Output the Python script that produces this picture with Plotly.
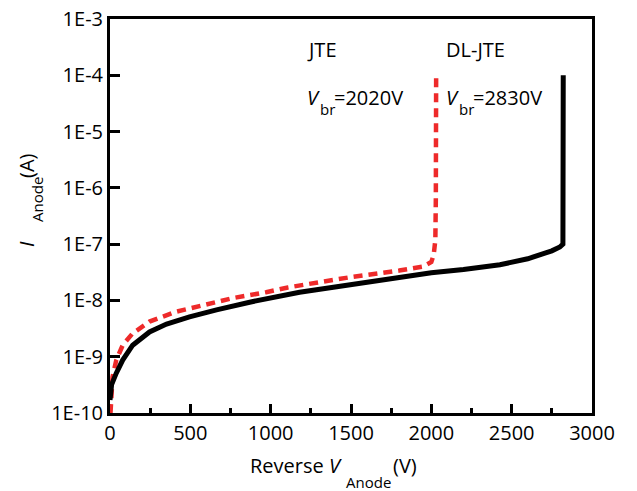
import plotly.graph_objects as go

# DL-JTE (black, solid)
dl_v = [0, 10, 39, 79, 141, 246, 352, 495, 663, 869, 1180, 1500, 1804, 2000,
        2200, 2427, 2600, 2679, 2750, 2800, 2819, 2821]
dl_i = [1.7e-10, 3.2e-10, 5.1e-10, 8.7e-10, 1.6e-9, 2.75e-9, 3.8e-9, 5.1e-9,
        6.8e-9, 9.3e-9, 1.4e-8, 1.9e-8, 2.6e-8, 3.1e-8, 3.55e-8, 4.3e-8,
        5.5e-8, 6.5e-8, 7.6e-8, 8.9e-8, 1.0e-7, 1.0e-4]

# JTE (red, dashed)
jte_v = [3, 8, 16, 39, 79, 141, 246, 411, 557, 764, 972, 1107, 1300, 1500,
         1800, 1950, 2000, 2015, 2025, 2028, 2030]
jte_i = [1.0e-10, 2.0e-10, 4.4e-10, 8.7e-10, 1.6e-9, 2.6e-9, 4.2e-9, 6.3e-9,
         7.9e-9, 1.1e-8, 1.4e-8, 1.7e-8, 2.1e-8, 2.6e-8, 3.4e-8, 4.0e-8,
         4.8e-8, 6.5e-8, 1.2e-7, 6.3e-7, 1.0e-4]

y_tickvals = [1e-10, 1e-9, 1e-8, 1e-7, 1e-6, 1e-5, 1e-4, 1e-3]
y_ticktext = ["1E-10", "1E-9", "1E-8", "1E-7", "1E-6", "1E-5", "1E-4", "1E-3"]
x_tickvals = [0, 500, 1000, 1500, 2000, 2500, 3000]

FONT = "Open Sans"
W, H = 637, 491
L, R, T, B = 110, 592, 19, 413


def px(x):
    return (x - L) / (R - L)


def py(y):
    return (B - y) / (B - T)


fig = go.Figure()
fig.add_trace(go.Scatter(x=jte_v, y=jte_i, mode="lines",
                         line=dict(color="#ee2a2a", width=4.5, dash="9px,6px")))
fig.add_trace(go.Scatter(x=dl_v, y=dl_i, mode="lines",
                         line=dict(color="black", width=5)))

fig.update_layout(
    width=W, height=H,
    margin=dict(l=L, r=W - R, t=T, b=H - B, pad=0),
    paper_bgcolor="white", plot_bgcolor="white",
    showlegend=False,
    font=dict(family=FONT, size=20, color="black"),
)
fig.update_xaxes(
    range=[0, 3000], tickmode="array", tickvals=x_tickvals,
    ticks="inside", ticklen=9, tickwidth=3, tickcolor="black",
    showline=True, linewidth=3, linecolor="black", mirror=True,
    showgrid=False, zeroline=False, automargin=False, layer="above traces",
    minor=dict(ticks="inside", ticklen=5, tickwidth=3, tickcolor="black",
               tickmode="array", tickvals=[250, 750, 1250, 1750, 2250, 2750],
               showgrid=False),
    tickfont=dict(size=20),
)
fig.update_yaxes(
    type="log", range=[-10, -3], tickmode="array", tickvals=y_tickvals, ticktext=y_ticktext,
    ticks="inside", ticklen=10, tickwidth=3, tickcolor="black",
    showline=True, linewidth=3, linecolor="black", mirror=True,
    showgrid=False, zeroline=False, automargin=False, layer="above traces",
    tickfont=dict(size=20),
)


def txt(text, x, y, size=20, xanchor="left", angle=0):
    fig.add_annotation(text=text, x=px(x), y=py(y), xref="paper", yref="paper",
                       xanchor=xanchor, yanchor="middle", showarrow=False,
                       textangle=angle, font=dict(size=size, family=FONT))


# x axis title: Reverse V_Anode (V)
txt("Reverse <i>V</i>", 344, 465, xanchor="right")
txt("Anode", 344, 482, size=15)
txt("(V)", 391, 465)

# y axis title: I_Anode (A), rotated
txt("<i>I</i>", 26, 244, xanchor="center", angle=-90)
txt("Anode", 37, 200, size=15, xanchor="center", angle=-90)
txt("(A)", 27, 166, xanchor="center", angle=-90)

# series labels
txt("JTE", 305, 50)
txt("DL-JTE", 444, 50)
txt("<i>V</i>", 305, 97)
txt("br", 318, 109, size=15)
txt("=2020V", 332, 97)
txt("<i>V</i>", 444, 97)
txt("br", 457, 109, size=15)
txt("=2830V", 471, 97)

fig.write_html("out.html")
